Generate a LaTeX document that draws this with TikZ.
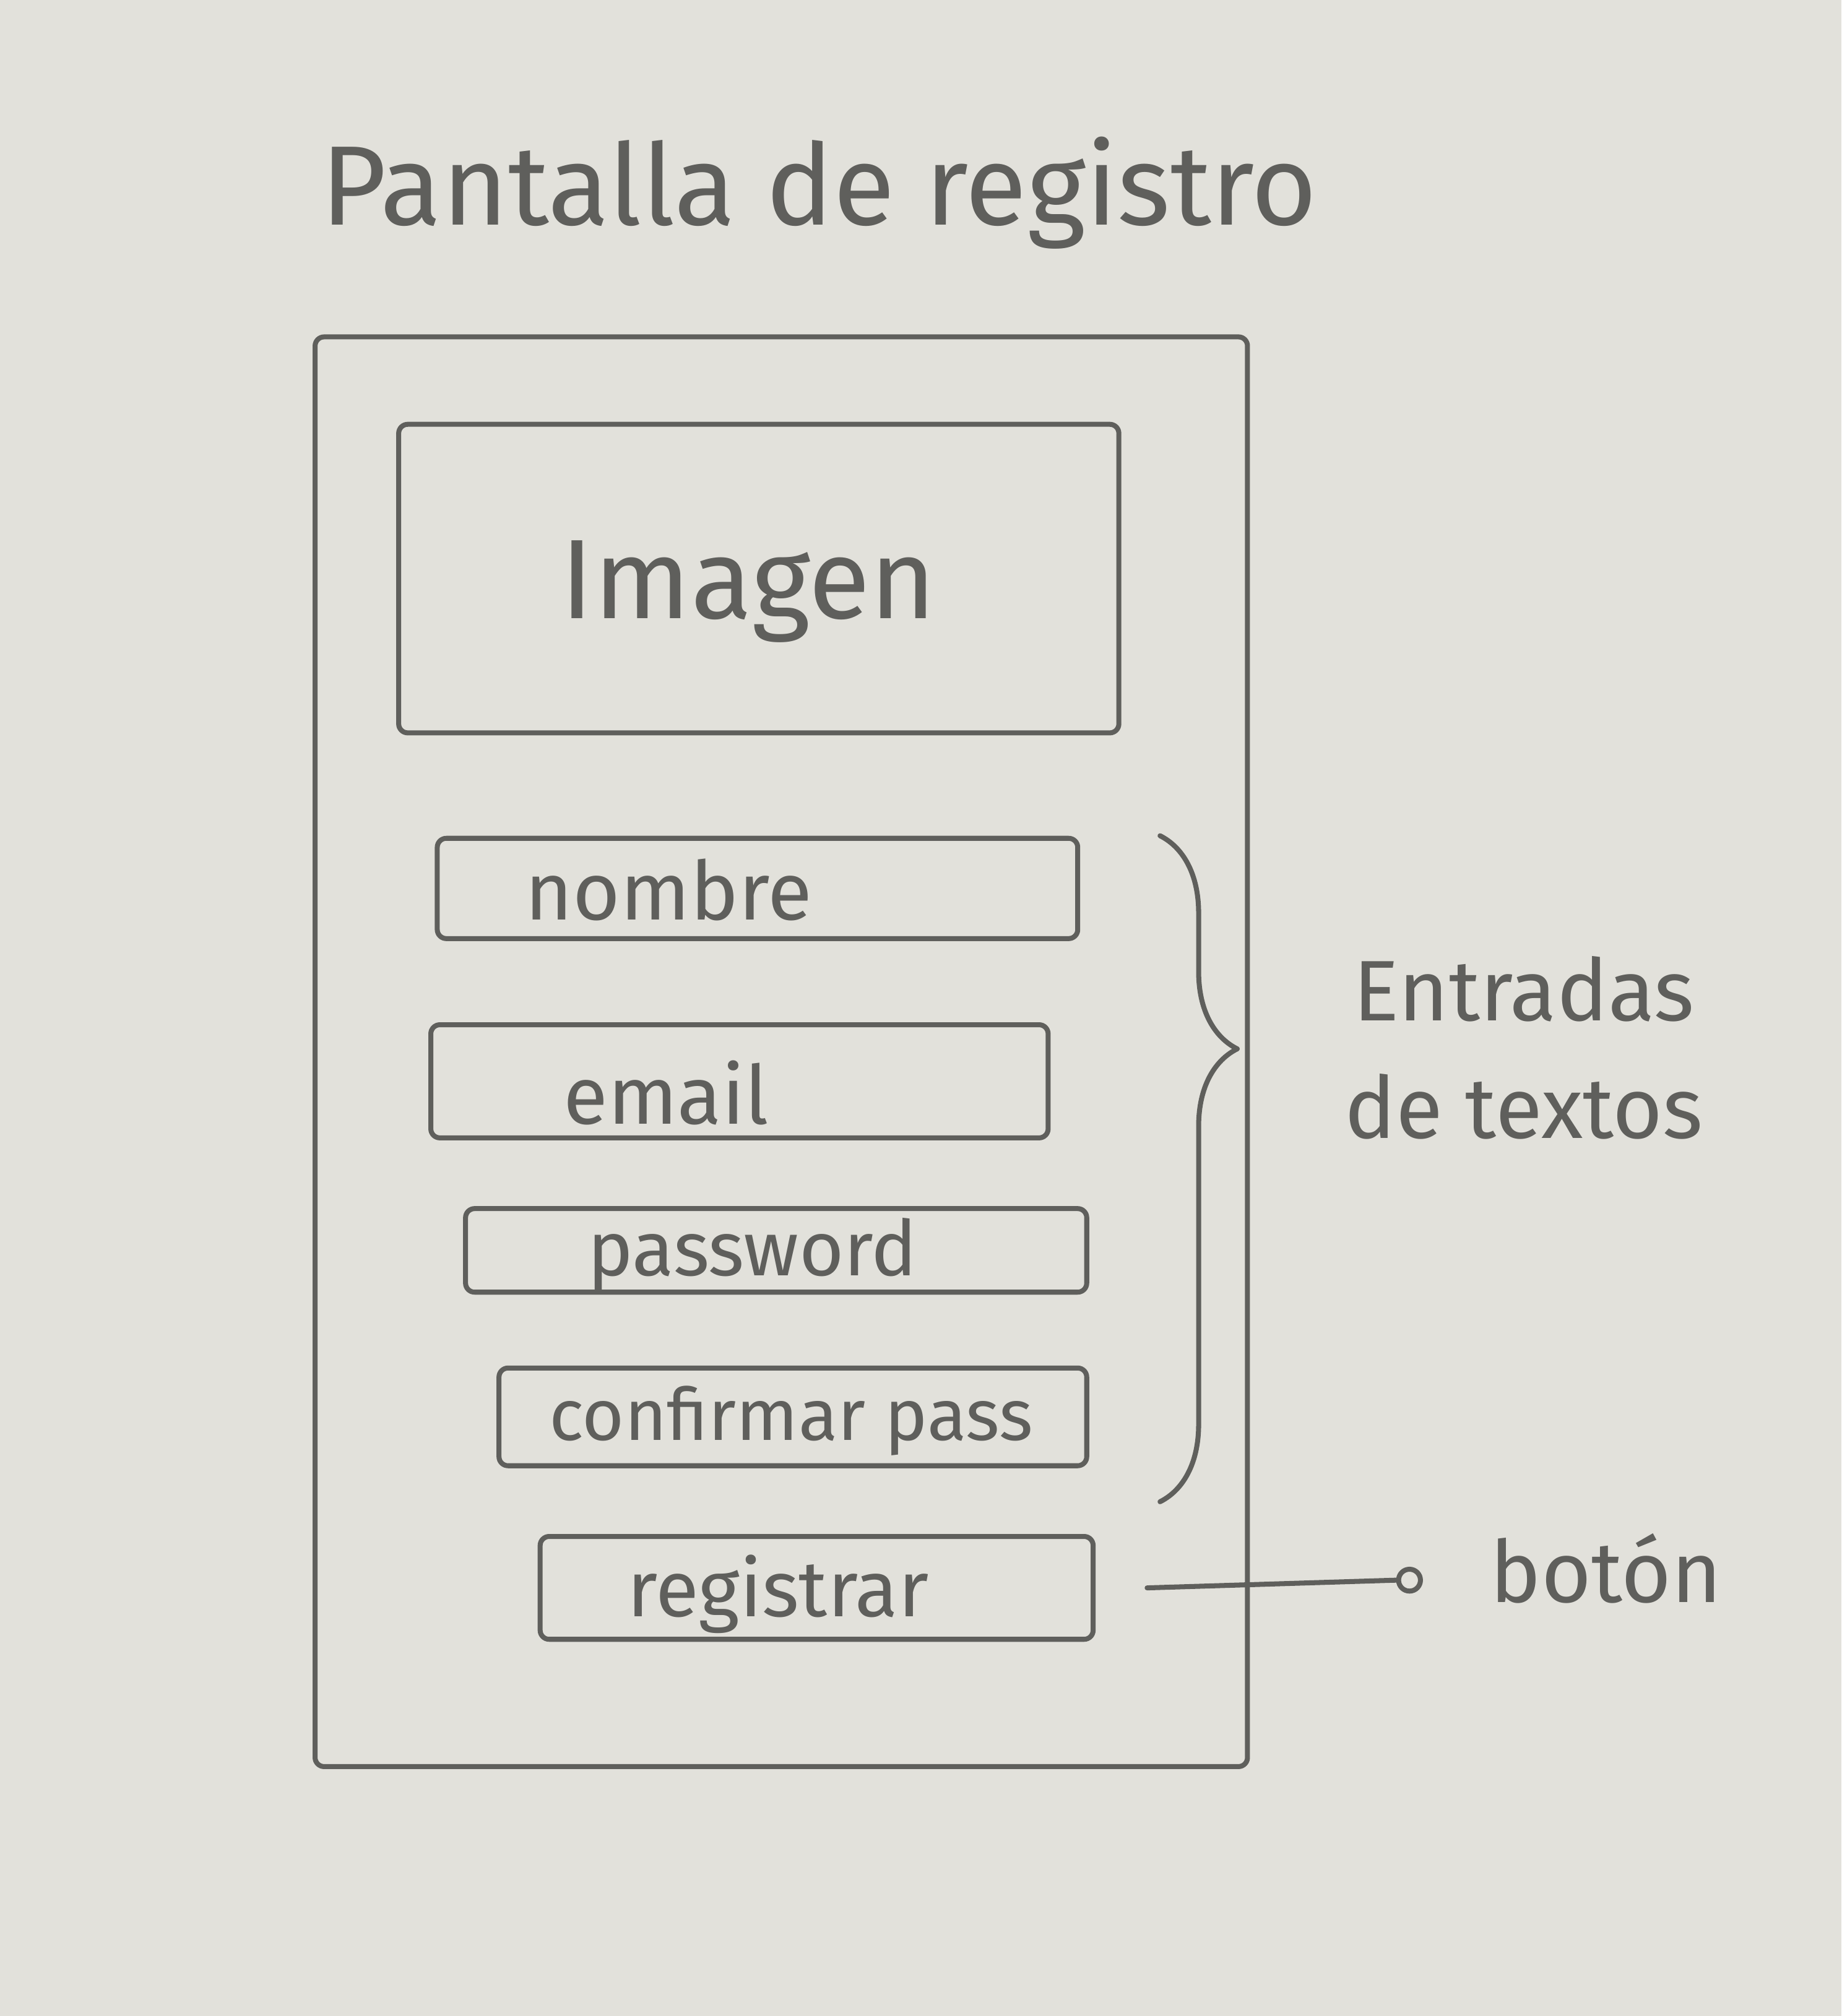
\documentclass[tikz,border=0pt]{standalone}
\usepackage{fontspec}
\setmainfont{Fira Sans}
\usetikzlibrary{fit,decorations.pathreplacing}
\definecolor{paper}{RGB}{226,225,219}
\definecolor{pencil}{RGB}{95,95,92}
\tikzset{
  sk/.style={draw=pencil, line width=1.1pt, line cap=round, line join=round},
  box/.style={sk, rectangle, inner sep=0pt, rounded corners=2pt},
  txt/.style={text=pencil, inner sep=0pt},
}
\begin{document}
\begin{tikzpicture}[x=0.01cm, y=-0.01cm]
  \fill[paper] (0,0) rectangle (1432,1568);
  \useasboundingbox (0,0) rectangle (1432,1568);

  % title
  \node[txt, font=\fontsize{25}{30}\selectfont] (title) at (637,150) {Pantalla de registro};

  % phone frame
  \node[box, fit={(245,262)(970,1374)}] (phone) {};

  % image
  \node[box, fit={(310,330)(870,570)}] (img) {};
  \node[txt, font=\fontsize{25}{30}\selectfont] (imgt) at (582,460) {Imagen};

  % text fields
  \node[box, fit={(340,652)(838,730)}] (nombre) {};
  \node[txt, font=\fontsize{18}{22}\selectfont] (nombret) at (520,692) {nombre};

  \node[box, fit={(335,797)(815,885)}] (email) {};
  \node[txt, font=\fontsize{18}{22}\selectfont] (emailt) at (518,850) {email};

  \node[box, fit={(362,940)(845,1005)}] (pass) {};
  \node[txt, font=\fontsize{17}{22}\selectfont] (passt) at (585,976) {password};

  \node[box, fit={(388,1064)(845,1140)}] (conf) {};
  \node[txt, font=\fontsize{16}{20}\selectfont] (conft) at (615,1105) {confirmar pass};

  % button
  \node[box, fit={(420,1195)(850,1275)}] (btn) {};
  \node[txt, font=\fontsize{17.5}{22}\selectfont] (btnt) at (605,1240) {registrar};

  % brace + label
  \coordinate (bt) at (902,650);
  \coordinate (bb) at (902,1168);
  \draw[sk, decorate, decoration={brace, amplitude=0.6cm, aspect=0.32}] (bt) -- (bb);
  \node[txt, font=\fontsize{19}{26}\selectfont, align=center] (ent) at (1185,815) {Entradas\\de textos};

  % boton callout
  \node[sk, circle, minimum size=0.17cm, inner sep=0pt] (dot) at (1096,1229) {};
  \node[txt, font=\fontsize{19}{24}\selectfont, anchor=west] (boton) at (1158,1220) {botón};
  \draw[sk] ([xshift=0.4cm]btn.east) -- (dot.west);
\end{tikzpicture}
\end{document}
